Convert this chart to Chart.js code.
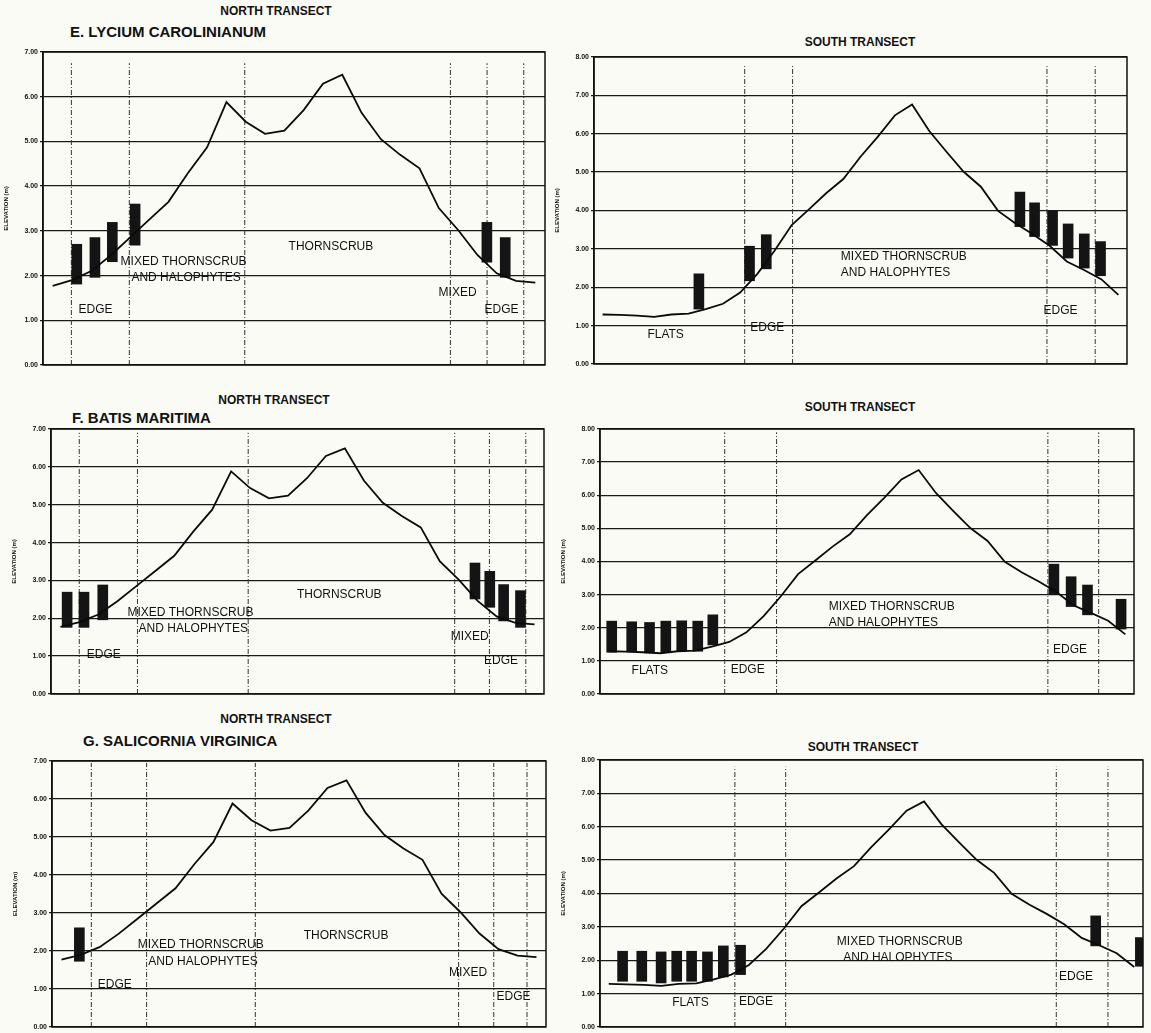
<!DOCTYPE html>
<html>
<head>
<meta charset="utf-8">
<script src="https://cdn.jsdelivr.net/npm/chart.js@4.4.0/dist/chart.umd.min.js"></script>
<style>
body{margin:0;background:#fbfbf6;width:1151px;height:1033px;position:relative;overflow:hidden;font-family:'Liberation Sans',Arial,sans-serif;}
canvas{position:absolute;}
.t{position:absolute;font-weight:bold;color:#111;white-space:nowrap;transform:translateY(-50%);}
.c{transform:translate(-50%,-50%);}
</style>
</head>
<body>
<div class="t c" style="left:276px;top:11px;font-size:12px">NORTH TRANSECT</div>
<div class="t" style="left:70px;top:31px;font-size:15px">E. LYCIUM CAROLINIANUM</div>
<div class="t c" style="left:860px;top:42px;font-size:12px">SOUTH TRANSECT</div>
<div class="t c" style="left:274px;top:400px;font-size:12px">NORTH TRANSECT</div>
<div class="t" style="left:72px;top:417px;font-size:15px">F. BATIS MARITIMA</div>
<div class="t c" style="left:860px;top:407px;font-size:12px">SOUTH TRANSECT</div>
<div class="t c" style="left:276px;top:719px;font-size:12px">NORTH TRANSECT</div>
<div class="t" style="left:83px;top:740px;font-size:15px">G. SALICORNIA VIRGINICA</div>
<div class="t c" style="left:863px;top:747px;font-size:12px">SOUTH TRANSECT</div>

<canvas id="p1"></canvas>
<canvas id="p2"></canvas>
<canvas id="p3"></canvas>
<canvas id="p4"></canvas>
<canvas id="p5"></canvas>
<canvas id="p6"></canvas>

<script>
// elevation profiles
const northStation = [0,1,2,3,4,5,6,7,8,9,10,11,12,13,14,15,16,17,18,19,20,21,22,23,24,25];
const northElev = [1.77,1.90,2.10,2.45,2.85,3.25,3.65,4.29,4.87,5.88,5.44,5.17,5.24,5.70,6.29,6.49,5.64,5.05,4.70,4.40,3.51,3.02,2.46,2.05,1.88,1.84];
const southDist = [1,3,5,7,9,11,13,15,17,19,21,23,25,27,29,31,33,35,37,39,41,43,45,47,49,51,53,55,57,59,61];
const southElev = [1.29,1.28,1.26,1.23,1.29,1.31,1.43,1.57,1.86,2.35,2.95,3.62,4.03,4.45,4.82,5.40,5.92,6.48,6.76,6.07,5.53,5.01,4.62,3.99,3.67,3.39,3.08,2.67,2.45,2.21,1.80];

// E. Lycium carolinianum  (bar = elevation range of plants)
const lyciumNorthAt   = [1.25,2.19,3.09,4.27,22.49,23.44];
const lyciumNorthLow  = [1.81,1.96,2.31,2.68,2.30,1.96];
const lyciumNorthHigh = [2.70,2.85,3.19,3.60,3.19,2.85];
const lyciumSouthAt   = [12.2,18.09,20.04,49.54,51.25,53.34,55.15,57.03,58.92];
const lyciumSouthLow  = [1.43,2.17,2.48,3.58,3.32,3.09,2.76,2.50,2.30];
const lyciumSouthHigh = [2.35,3.07,3.37,4.48,4.20,3.98,3.65,3.39,3.19];

// F. Batis maritima
const batisNorthAt   = [0.35,1.24,2.23,21.86,22.64,23.37,24.26];
const batisNorthLow  = [1.76,1.76,1.96,2.51,2.29,1.93,1.76];
const batisNorthHigh = [2.69,2.69,2.88,3.46,3.24,2.89,2.73];
const batisSouthAt   = [1.36,3.68,5.75,7.64,9.49,11.35,13.1,52.7,54.7,56.6,60.5];
const batisSouthLow  = [1.26,1.27,1.24,1.26,1.29,1.29,1.48,3.01,2.64,2.39,1.96];
const batisSouthHigh = [2.20,2.18,2.16,2.20,2.21,2.20,2.39,3.92,3.54,3.29,2.86];

// G. Salicornia virginica
const salicorniaNorthAt   = [0.94];
const salicorniaNorthLow  = [1.73];
const salicorniaNorthHigh = [2.61];
const salicorniaSouthAt   = [2.58,4.77,6.98,8.76,10.46,12.27,14.08,16.05,56.6,61.7];
const salicorniaSouthLow  = [1.37,1.37,1.32,1.37,1.37,1.37,1.50,1.57,2.43,1.82];
const salicorniaSouthHigh = [2.27,2.27,2.25,2.27,2.27,2.25,2.43,2.45,3.33,2.68];

// zone boundaries (dashed lines)
const zonesLyciumN = [0.97,3.97,9.95,20.6,22.5,24.4];
const zonesLyciumS = [17.53,23.1,52.69,58.3];
const zonesBatisN = [0.99,4.06,9.9,20.79,22.62,24.54];
const zonesBatisS = [14.48,20.5,52.0,57.9];
const zonesSalicN = [1.57,4.48,10.2,20.9,22.75,24.5];
const zonesSalicS = [15.4,21.2,52.1,58.0];

Chart.defaults.font.family = "'Liberation Sans', Arial, sans-serif";

const framePlugin = {
  id: 'frame',
  afterDraw(chart) {
    const a = chart.chartArea, ctx = chart.ctx;
    ctx.save();
    ctx.strokeStyle = '#111';
    ctx.lineWidth = 1.5;
    ctx.strokeRect(a.left, a.top, a.right - a.left, a.bottom - a.top);
    ctx.restore();
  }
};

const labelPlugin = {
  id: 'zoneLabels',
  afterDatasetsDraw(chart, args, opts) {
    const ctx = chart.ctx, xs = chart.scales.x, ys = chart.scales.y;
    ctx.save();
    ctx.fillStyle = '#111';
    ctx.font = "12px 'Liberation Sans', Arial, sans-serif";
    ctx.textAlign = 'left';
    ctx.textBaseline = 'middle';
    (opts.items || []).forEach(l => {
      ctx.fillText(l[0], xs.getPixelForValue(l[1]), ys.getPixelForValue(l[2]));
    });
    ctx.restore();
  }
};

function panel(id, box, xs, ys, xmin, xmax, ymax, at, lo, hi, zones, ztop, labels) {
  const cv = document.getElementById(id);
  const W = box.w + 48, H = box.h + 16;
  cv.width = W; cv.height = H;
  cv.style.left = (box.l - 40) + 'px';
  cv.style.top = (box.t - 8) + 'px';
  cv.style.width = W + 'px'; cv.style.height = H + 'px';

  const profile = xs.map((x, i) => ({x: x, y: ys[i]}));
  const bars = at.map((x, i) => ({x: x, y: [lo[i], hi[i]]}));
  const zl = [];
  zones.forEach(z => { zl.push({x: z, y: 0}, {x: z, y: ztop}, {x: z, y: null}); });

  new Chart(cv, {
    type: 'line',
    data: {
      datasets: [
        {type: 'bar', data: bars, backgroundColor: '#141414', barThickness: 10, grouped: false, order: 2},
        {type: 'line', data: profile, borderColor: '#0a0a0a', borderWidth: 1.8, pointRadius: 0, tension: 0, order: 1},
        {type: 'line', data: zl, borderColor: '#333', borderWidth: 1, borderDash: [5, 2, 1, 2], pointRadius: 0, spanGaps: false, order: 3}
      ]
    },
    options: {
      responsive: false,
      animation: false,
      devicePixelRatio: 1,
      layout: {padding: {top: 8, right: 8, bottom: 8, left: 0}},
      plugins: {legend: {display: false}, tooltip: {enabled: false}, zoneLabels: {items: labels}},
      scales: {
        x: {type: 'linear', min: xmin, max: xmax, display: false, offset: false},
        y: {
          min: 0, max: ymax,
          afterFit: s => { s.width = 40; },
          ticks: {stepSize: 1, callback: v => v.toFixed(2), font: {size: 7, weight: 'bold'}, color: '#111', padding: 2},
          grid: {color: '#1a1a1a', lineWidth: 1.3, tickLength: 3},
          border: {display: true, color: '#111', width: 1.5},
          title: {display: true, text: 'ELEVATION (m)', font: {size: 6, weight: 'bold'}, color: '#111', padding: 0}
        }
      }
    },
    plugins: [framePlugin, labelPlugin]
  });
}

panel('p1', {l: 43, t: 52, w: 502, h: 313}, northStation, northElev, -0.5, 25.5, 7,
  lyciumNorthAt, lyciumNorthLow, lyciumNorthHigh, zonesLyciumN, 6.75,
  [['THORNSCRUB', 12.22, 2.65], ['MIXED THORNSCRUB', 3.52, 2.31], ['AND HALOPHYTES', 4.08, 1.95],
   ['EDGE', 1.34, 1.23], ['MIXED', 19.99, 1.62], ['EDGE', 22.37, 1.23]]);

panel('p2', {l: 594, t: 57, w: 533, h: 307}, southDist, southElev, 0, 62, 8,
  lyciumSouthAt, lyciumSouthLow, lyciumSouthHigh, zonesLyciumS, 7.78,
  [['MIXED THORNSCRUB', 28.71, 2.80], ['AND HALOPHYTES', 28.71, 2.38], ['FLATS', 6.21, 0.77],
   ['EDGE', 18.18, 0.94], ['EDGE', 52.3, 1.38]]);

panel('p3', {l: 51, t: 429, w: 493, h: 265}, northStation, northElev, -0.5, 25.5, 7,
  batisNorthAt, batisNorthLow, batisNorthHigh, zonesBatisN, 6.9,
  [['THORNSCRUB', 12.47, 2.62], ['MIXED THORNSCRUB', 3.53, 2.15], ['AND HALOPHYTES', 4.12, 1.72],
   ['EDGE', 1.39, 1.04], ['MIXED', 20.58, 1.52], ['EDGE', 22.34, 0.88]]);

panel('p4', {l: 600, t: 429, w: 534, h: 265}, southDist, southElev, 0, 62, 8,
  batisSouthAt, batisSouthLow, batisSouthHigh, zonesBatisS, 7.9,
  [['MIXED THORNSCRUB', 26.56, 2.64], ['AND HALOPHYTES', 26.56, 2.15], ['FLATS', 3.67, 0.70],
   ['EDGE', 15.17, 0.73], ['EDGE', 52.6, 1.33]]);

panel('p5', {l: 52, t: 761, w: 494, h: 266}, northStation, northElev, -0.5, 25.5, 7,
  salicorniaNorthAt, salicorniaNorthLow, salicorniaNorthHigh, zonesSalicN, 6.95,
  [['THORNSCRUB', 12.75, 2.40], ['MIXED THORNSCRUB', 4.01, 2.17], ['AND HALOPHYTES', 4.57, 1.73],
   ['EDGE', 1.91, 1.12], ['MIXED', 20.4, 1.43], ['EDGE', 22.9, 0.79]]);

panel('p6', {l: 600, t: 760, w: 543, h: 267}, southDist, southElev, 0, 62, 8,
  salicorniaSouthAt, salicorniaSouthLow, salicorniaSouthHigh, zonesSalicS, 7.8,
  [['MIXED THORNSCRUB', 27.04, 2.55], ['AND HALOPHYTES', 27.77, 2.07], ['FLATS', 8.25, 0.72],
   ['EDGE', 15.86, 0.77], ['EDGE', 52.41, 1.52]]);
</script>
</body>
</html>
